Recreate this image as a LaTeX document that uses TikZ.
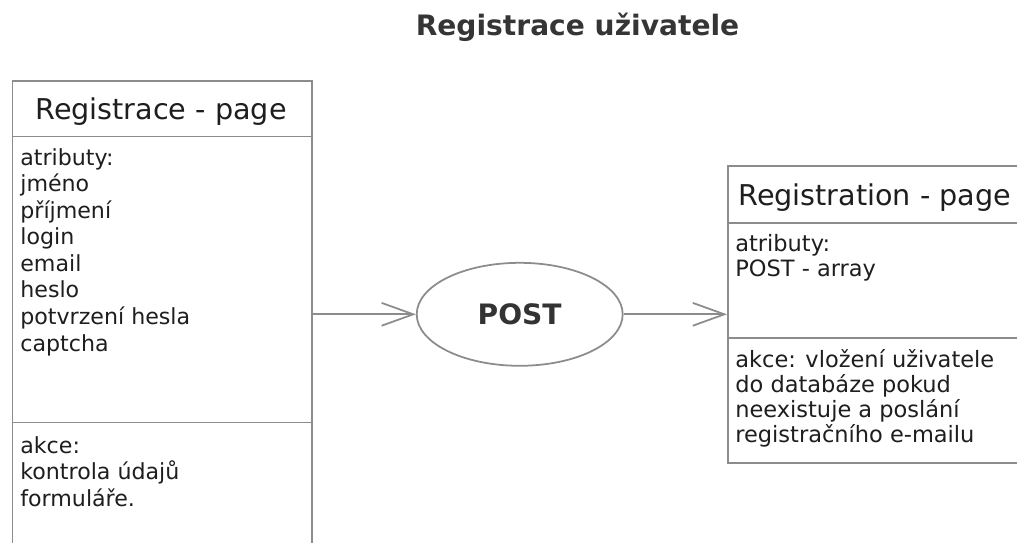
\documentclass[tikz,border=0pt]{standalone}
\usepackage{fontspec}
\setmainfont{DejaVu Sans}
\usetikzlibrary{arrows.meta,shapes.geometric}
\definecolor{linegray}{HTML}{8C8C8C}
\definecolor{txt}{HTML}{1E1E1E}
\tikzset{
  umlbox/.style={draw=linegray, line width=1pt, rectangle, inner sep=0pt, anchor=north west},
  divider/.style={draw=linegray, line width=1pt},
  conn/.style={draw=linegray, line width=1pt, -{Straight Barb[length=18pt,width=13pt,line width=1pt]}},
  boxtitle/.style={font=\fontsize{16.3}{19}\selectfont, text=txt, inner sep=0pt},
  lefttext/.style={font=\fontsize{12.6}{15.1}\selectfont, text=txt, align=left, inner sep=0pt, anchor=north west},
  righttext/.style={font=\fontsize{12.8}{14.2}\selectfont, text=txt, align=left, inner sep=0pt, anchor=north west},
  action/.style={ellipse, draw=linegray, line width=1pt, minimum width=4.12cm, minimum height=2.06cm, inner sep=0pt,
    font=\fontsize{16}{19}\selectfont\bfseries, text=black!80},
}
\newcommand{\topstrut}{\rule{0pt}{10pt}}
\begin{document}
\begin{tikzpicture}[x=0.02cm, y=-0.02cm]
  \useasboundingbox[fill=white] (0,0) rectangle (1017,542);
  % main title
  \node[font=\fontsize{16}{19}\selectfont\bfseries, text=txt!90, anchor=base, inner sep=0pt] (title) at (577.5,35) {Registrace uživatele};

  % left box
  \node[umlbox, minimum width=6cm, minimum height=9.4cm] (lbox) at (11.5,80) {};
  \draw[divider] (11.5,136.5) -- (311.5,136.5);
  \draw[divider] (11.5,422.5) -- (311.5,422.5);
  \node[boxtitle, anchor=base] (ltitle) at (161,119) {Registrace - page};
  \node[lefttext] (lattr) at (20,147.4) {\topstrut atributy:\\jméno\\příjmení\\login\\email\\heslo\\potvrzení hesla\\captcha};
  \node[lefttext] (lakce) at (20,435.4) {\topstrut akce:\\kontrola údajů\\formuláře.};

  % ellipse
  \node[action] (post) at (519.7,314.3) {POST};

  % right box
  \node[umlbox, minimum width=6.1cm, minimum height=5.94cm] (rbox) at (727,165) {};
  \draw[divider] (727,223) -- (1032,223);
  \draw[divider] (727,338) -- (1032,338);
  \node[boxtitle, anchor=base west] (rtitle) at (738,205) {Registration - page};
  \node[righttext] (rattr) at (735,233.4) {\topstrut atributy:\\POST - array};
  \node[righttext] (rakce) at (735,349.4) {\topstrut akce: vložení uživatele\\do databáze pokud\\neexistuje a poslání\\registračního e-mailu};

  % connectors
  \draw[conn] (lbox.east |- post.west) -- (post.west);
  \draw[conn] (post.east) -- (rbox.west |- post.east);
\end{tikzpicture}
\end{document}
